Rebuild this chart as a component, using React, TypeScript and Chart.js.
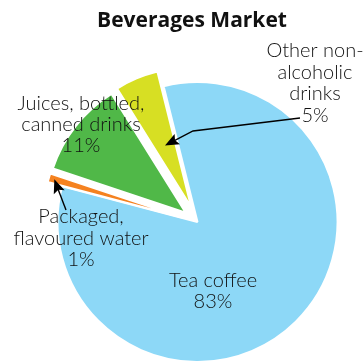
import React, { useEffect, useRef } from "react";
import { Chart, registerables } from "chart.js";

Chart.register(...registerables);

const categories = ["Tea coffee", "Packaged, flavoured water", "Juices, bottled, canned drinks", "Other non-alcoholic drinks"];
const shares = [83, 1, 11, 5];
const colors = ["#8DD8F7", "#F58220", "#50B848", "#D7DF23"];
const explode = [0, 15, 15, 16];

const labelLines = [
  ["Tea coffee", "83%"],
  ["Packaged,", "flavoured water", "1%"],
  ["Juices, bottled,", "canned drinks", "11%"],
  ["Other non-", "alcoholic", "drinks", "5%"],
];
const labelPos = [
  { x: 213, y: 287, lh: 20.5 },
  { x: 81, y: 223, lh: 21.5 },
  { x: 81, y: 110, lh: 21 },
  { x: 315, y: 57, lh: 21.5 },
];
const arrows = [
  { i: 3, from: [300, 118], elbow: [193, 131], frac: 0.48 },
  { i: 1, from: [66, 210], elbow: null, frac: 0.96 },
];
const TITLE = "Beverages Market";
const TEXT = "#111111";

const explodePlugin = {
  id: "explode",
  afterDatasetsUpdate(chart: any) {
    const meta = chart.getDatasetMeta(0);
    meta.data.forEach((arc: any, i: number) => {
      const e = explode[i] || 0;
      const mid = (arc.startAngle + arc.endAngle) / 2;
      arc.x += Math.cos(mid) * e;
      arc.y += Math.sin(mid) * e;
    });
  },
};

function drawArrowHead(ctx: CanvasRenderingContext2D, fx: number, fy: number, tx: number, ty: number) {
  const a = Math.atan2(ty - fy, tx - fx);
  const len = 15;
  const w = 0.4;
  ctx.beginPath();
  ctx.moveTo(tx, ty);
  ctx.lineTo(tx - len * Math.cos(a - w), ty - len * Math.sin(a - w));
  ctx.lineTo(tx - len * 0.75 * Math.cos(a), ty - len * 0.75 * Math.sin(a));
  ctx.lineTo(tx - len * Math.cos(a + w), ty - len * Math.sin(a + w));
  ctx.closePath();
  ctx.fill();
}

const labelsPlugin = {
  id: "labels",
  afterDraw(chart: any) {
    const ctx: CanvasRenderingContext2D = chart.ctx;
    ctx.save();
    ctx.fillStyle = TEXT;
    ctx.textAlign = "center";
    ctx.textBaseline = "alphabetic";
    ctx.font = "bold 21px 'Open Sans'";
    ctx.fillText(TITLE, 192, 27);
    ctx.font = "300 20px Lato";
    labelLines.forEach((lines, k) => {
      const p = labelPos[k];
      lines.forEach((t, j) => ctx.fillText(t, p.x, p.y + j * p.lh));
    });
    const meta = chart.getDatasetMeta(0);
    ctx.strokeStyle = "#000";
    ctx.fillStyle = "#000";
    ctx.lineWidth = 1.4;
    arrows.forEach((ar) => {
      const arc = meta.data[ar.i];
      const mid = (arc.startAngle + arc.endAngle) / 2;
      const tx = arc.x + Math.cos(mid) * arc.outerRadius * ar.frac;
      const ty = arc.y + Math.sin(mid) * arc.outerRadius * ar.frac;
      const pts: number[][] = [ar.from];
      if (ar.elbow) pts.push(ar.elbow);
      const last = pts[pts.length - 1];
      const a = Math.atan2(ty - last[1], tx - last[0]);
      ctx.beginPath();
      ctx.moveTo(pts[0][0], pts[0][1]);
      for (let j = 1; j < pts.length; j++) ctx.lineTo(pts[j][0], pts[j][1]);
      ctx.lineTo(tx - Math.cos(a) * 9, ty - Math.sin(a) * 9);
      ctx.stroke();
      drawArrowHead(ctx, last[0], last[1], tx, ty);
    });
    ctx.restore();
  },
};

export default function App() {
  const ref = useRef<HTMLCanvasElement>(null);
  useEffect(() => {
    if (!ref.current) return;
    const chart = new Chart(ref.current, {
      type: "pie",
      data: {
        labels: categories,
        datasets: [
          {
            data: shares,
            backgroundColor: colors,
            borderColor: "#ffffff",
            borderWidth: 2,
          },
        ],
      },
      options: {
        animation: false,
        responsive: false,
        rotation: -14,
        radius: 140,
        layout: { padding: { left: 32, right: 0, top: 83, bottom: 0 } },
        plugins: {
          legend: { display: false },
          tooltip: { enabled: false },
          title: { display: false },
        },
      },
      plugins: [explodePlugin, labelsPlugin],
    } as any);
    return () => chart.destroy();
  }, []);
  return (
    <div style={{ position: "fixed", left: 0, top: 0, width: 363, height: 361, background: "#fff" }}>
      <canvas ref={ref} width={363} height={361} style={{ width: 363, height: 361, display: "block" }} />
    </div>
  );
}
